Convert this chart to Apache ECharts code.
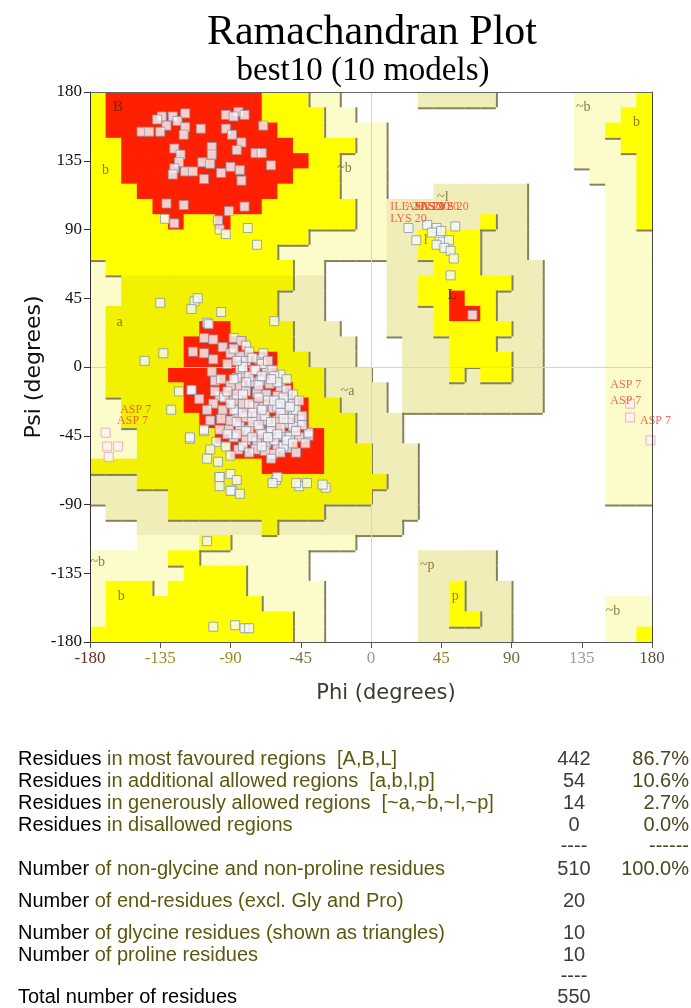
<!DOCTYPE html>
<html><head><meta charset="utf-8">
<script src="https://cdn.jsdelivr.net/npm/echarts@6/dist/echarts.min.js"></script>
<style>html,body{margin:0;padding:0;background:#fff}#c{width:691px;height:1008px}</style>
</head><body><div id="c"></div>
<script>
// ---------------- DATA ----------------
// Region map, 10-degree cells, run-length encoded. Row 0 = psi 170..180, col 0 = phi -180..-170
// R core, Y/y allowed, q/P generously allowed, . disallowed
const regionRows = [
 "Y1R10Y3P2.5q5.5P4Y1","Y1R10Y4P2.14P3Y2","Y1R11Y3P4.12P2Y3","Y2R11Y4P2.12P3Y2",
 "Y2R12Y2P3.12P4Y1","Y2R11Y3P3.13P3Y1","Y3R9Y4P3.3q6.5P2Y1","Y4R7Y6P2q9.5P2Y1",
 "Y5R1Y2R1Y8P2q6Y1q2.5P2Y1","Y14P5q2Y4q3.5P3","Y12P7q2Y4q3.5P3","P1Y12P2.4q3Y3q4.4P3",
 "P2y11q2.4q2Y6q2.4P3","P2y10q3.4q2Y2R1Y2q3.4P3","P1y11q3.4q3Y1R2Y1q3.4P3","P1y6R2y4q3.3q3Y5q2.4P3",
 "P1y5R4y3q4.3q3Y3q3.4P3","P1y5R6y2q3.3q3Y4q2.4P3","P1y4R7y3q3.2q3Y1q1Y2q2.4P3","P1y5R7y2q4.1q9.4P3",
 "P2y4R8y2q3.1q9.4P3","P2y5R7y3q3.13P3","P3y5R7y2q3.13P3","P3y6R6y3q3.12P3",
 "y11R4y3q3.12P3","q3y16q2.12P3","q5y13q3.12P3",".1q4y10q6.15",
 ".3q8y1q8.16",".3P4Y2P8.19","P5Y2P7.7q5.10","P6Y4P4.7q5.10",
 "P1Y3P1Y5P5.6q2Y1q3.9","P1Y10P4.6q2Y1q3.6P3","P1Y12P2.6q2Y2q2.6P3","Y13P2.6q6.6P2Y1"
];
const phiTicks = [-180,-135,-90,-45,0,45,90,135,180];
const psiTicks = [-180,-135,-90,-45,0,45,90,135,180];

// residues [phi, psi]
const betaRegion = [
 [-134,164],[-127,164],[-119,166],[-124,161],[-131,158],[-137,162],[-93,165],[-85,167],[-81,165],[-88,164],
 [-69,158],[-147,154],[-142,154],[-135,154],[-119,157],[-109,156],[-120,152],[-93,156],[-89,152],[-83,147],
 [-86,142],[-74,140],[-70,140],[-64,132],[-126,143],[-122,139],[-123,134],[-126,130],[-119,128],[-114,128],
 [-107,123],[-108,134],[-102,144],[-102,139],[-103,133],[-96,127],[-90,131],[-84,129],[-83,122],[-127,126],
 [-131,107],[-120,106],[-132,97],[-126,94],[-98,96],[-97,90],[-93,87],[-91,102],[-81,105],[-79,91],[-73,80]
];
const bridgeRegion = [
 [-135,42],[-113,43],[-115,38],[-111,45],[-96,36],[-105,29],[-62,30],[-133,9],[-145,4],
 [-123,-16],[-115,-15],[-128,-28],[-116,-47],[-107,-42],[-91,-41],[-53,-45],[-40,-45],
 [-29,-79],[-46,-78],[-61,-74],[-89,-81],[-97,-72],[-105,-114],
 [-101,-170],[-87,-169],[-81,-171],[-78,-171]
];
const alphaRegion = [
 [-104,28],[-107,19],[-101,18],[-114,10],[-107,9],[-101,5],[-102,-3],[-100,-9],[-88,19],[-83,17],
 [-80,14],[-95,13],[-90,9],[-84,7],[-80,4],[-72,5],[-69,9],[-67,-2],[-63,-2],[-58,-5],
 [-75,-2],[-82,-4],[-86,-7],[-76,-10],[-71,-9],[-65,-11],[-58,-13],[-54,-15],[-84,-13],[-80,-16],
 [-73,-17],[-67,-18],[-60,-19],[-54,-22],[-50,-24],[-88,-22],[-82,-24],[-75,-26],[-69,-26],[-63,-27],
 [-56,-28],[-50,-30],[-46,-35],[-86,-30],[-80,-33],[-73,-33],[-67,-35],[-60,-35],[-54,-37],[-50,-39],
 [-84,-39],[-78,-41],[-71,-41],[-65,-43],[-58,-45],[-52,-46],[-40,-43],[-80,-48],[-73,-49],[-67,-50],
 [-60,-52],[-54,-53],[-63,-57],[-97,-19],[-101,-24],[-105,-28],[-110,-21],[-103,-35],[-107,-41],[-97,-41],
 [-99,-49],[-103,-54],[-93,-52],[-116,-46],[-115,-15],[-95,-28],[-90,-35],[-88,-46],[-85,-54],
 [-88,12],[-78,10],[-70,2],[-62,-6],[-56,-20],[-48,-28],[-44,-38],[-52,-34],[-60,-26],[-66,-22],
 [-72,-12],[-78,-6],[-84,-1],[-90,-12],[-94,-20],[-86,-18],[-76,-30],[-70,-44],[-64,-40],[-58,-40],
 [-62,-48],[-56,-52],[-68,-55],[-74,-54],[-80,-42],[-86,-36],[-92,-44],[-96,-34],[-100,-16],[-96,-8],
 [-92,2],[-82,0],[-74,-2],[-66,4],[-60,-10],[-54,-8],[-50,-18],[-46,-46],[-42,-50],[-48,-56],
 [-58,-30],[-68,-32],[-78,-24],[-88,-28],[-82,-52],[-90,-58],[-98,-62],[-105,-60],
 [-97,-72],[-90,-70],[-86,-74],[-97,-78],[-90,-81],[-84,-83],[-60,-72],[-63,-76],[-48,-76],[-41,-76],[-31,-77],
 [-86,4],[-76,6],[-64,-8],[-70,-6],[-80,-10],[-88,-8],[-92,-16],[-82,-18],[-72,-20],[-62,-22],
 [-52,-26],[-58,-24],[-70,-28],[-82,-30],[-90,-24],[-76,-36],[-64,-36],[-56,-34],[-48,-42],[-60,-44],
 [-72,-38],[-86,-44],[-76,-46],[-66,-46],[-54,-48],[-50,-50],[-70,-52],[-78,-56],[-58,-56],[-64,-60],
 [-44,-32],[-46,-22]
];
const leftHandedRegion = [
 [24,91],[29,83],[36,93],[42,91],[54,92],[44,85],[46,82],[50,83],[42,80],[47,78],[51,76],[53,71],[51,60],[65,34],[39,88],[45,89]
];
const flaggedResidues = [[-170,-43],[-169,-52],[-162,-52],[-168,-59],[166,-24],[166,-33],[179,-48]];
// residue labels [text, phi, psi] (label anchor)
const residueLabels = [
 ["ILE 20",12,105],["ASN 20",22,105],["HIS 20",28,105],["ASN 20",31,105],["LYS 20",39,105],["LYS 20",12,97],
 ["ASP 7",-161,-28],["ASP 7",-163,-35],["ASP 7",153,-12],["ASP 7",153,-22],["ASP 7",172,-35]
];
// region labels [text, phi, psi]
const regionLabels = [
 ["B",-162,170],["b",-170,129],["~b",-17,130],["~b",136,170],["b",170,160],["a",-161,29],["~a",-15,-16],
 ["L",52,47],["~l",46,111],["l",35,83],["~b",-175,-128],["b",-160,-150],["~p",36,-130],["p",54,-150],["~b",155,-160]
];
const statLabels = [
 ["Residues"," in most favoured regions  [A,B,L]"],
 ["Residues"," in additional allowed regions  [a,b,l,p]"],
 ["Residues"," in generously allowed regions  [~a,~b,~l,~p]"],
 ["Residues"," in disallowed regions"],
 null,
 ["Number"," of non-glycine and non-proline residues"],
 ["Number"," of end-residues (excl. Gly and Pro)"],
 ["Number"," of glycine residues (shown as triangles)"],
 ["Number"," of proline residues"],
 null,
 ["Total number of residues",""]
];
const statCounts = ["442","54","14","0","----","510","20","10","10","----","550"];
const statPercents = ["86.7%","10.6%","2.7%","0.0%","------","100.0%","","","","",""];

// ---------------- STYLE / LAYOUT ----------------
const codes = "RYyqP.";
const codeColor = ["#fe2000","#ffff00","#f1f100","#f1edb8","#fcfcca","#ffffff"];
const codeRank = [4,3,3,2,2,1];
const statRowY = [759,781,803,825,846,869,901,933,955,976,997];
const xLabelColors = ["#6a2a20","#958f22","#958f22","#7a7640","#9a9a9a","#8a8528","#6a6a40","#9a9a9a","#5a5040"];

function decode(rle){
  const out=[]; const re=/([RYyqP.])(\d+)/g; let m;
  while((m=re.exec(rle))) for(let i=0;i<+m[2];i++) out.push(codes.indexOf(m[1]));
  return out;
}
const grid = regionRows.map(decode);
const cellData=[], edgeData=[];
for(let r=0;r<36;r++) for(let c=0;c<36;c++){
  const k=grid[r][c]; const phi0=-180+10*c, psi0=170-10*r;
  cellData.push([phi0,psi0,k]);
  if(k!==0 && codeRank[k]>=2){
    if(c<35 && codeRank[grid[r][c+1]]<codeRank[k]) edgeData.push([phi0+10,psi0+10,phi0+10,psi0,1]);
    if(r<35 && codeRank[grid[r+1][c]]<codeRank[k]) edgeData.push([phi0,psi0,phi0+10,psi0,0]);
  }
}

const rich={}; xLabelColors.forEach((c,i)=>rich['c'+i]={color:c,fontFamily:'Liberation Serif',fontSize:17});

const graphic=[
 {type:'text',style:{text:'Ramachandran Plot',x:372,y:33,align:'center',verticalAlign:'middle',font:'42px "Liberation Serif"',fill:'#000'}},
 {type:'text',style:{text:'best10 (10 models)',x:363,y:71,align:'center',verticalAlign:'middle',font:'33px "Liberation Serif"',fill:'#000'}},
 {type:'text',style:{text:'Phi (degrees)',x:386,y:694,align:'center',verticalAlign:'middle',font:'21px "DejaVu Sans"',fill:'#3a3a30'}},
 {type:'text',x:34,y:367,rotation:Math.PI/2,style:{text:'Psi (degrees)',x:0,y:0,align:'center',verticalAlign:'middle',font:'22px "DejaVu Sans"',fill:'#111'}}
];
statLabels.forEach((lab,i)=>{
  if(lab) graphic.push({type:'text',style:{text:'{k|'+lab[0]+'}'+(lab[1]?'{o|'+lab[1]+'}':''),x:18,y:statRowY[i],verticalAlign:'middle',
    font:'20px "Liberation Sans"',rich:{k:{fill:'#000',font:'20px "Liberation Sans"'},o:{fill:'#5c5810',font:'20px "Liberation Sans"'}}}});
  graphic.push({type:'text',style:{text:statCounts[i],x:574,y:statRowY[i],align:'center',verticalAlign:'middle',font:'20px "Liberation Sans"',fill:'#3c3c3c'}});
  if(statPercents[i]) graphic.push({type:'text',style:{text:statPercents[i],x:689,y:statRowY[i],align:'right',verticalAlign:'middle',font:'20px "Liberation Sans"',fill:'#4a4620'}});
});

const pointStyle={color:'#f6f7fa',borderColor:'#8a95ab',borderWidth:1};
function pts(data,style,z){return {type:'scatter',data:data,symbol:'rect',symbolSize:9,itemStyle:style,z:z,silent:true,animation:false};}

const option={
  animation:false,
  grid:{left:90,top:92,width:562,height:550},
  xAxis:[{type:'value',min:-180,max:180,interval:45,position:'bottom',z:10,
    axisLine:{show:true,onZero:false,lineStyle:{color:'#555',width:1}},
    axisTick:{show:true,length:6,lineStyle:{color:'#555'}},
    axisLabel:{margin:8,rich:rich,formatter:(v)=>'{c'+phiTicks.indexOf(v)+'|'+v+'}'},
    splitLine:{show:false}},
   {type:'value',min:-180,max:180,position:'top',z:10,axisLine:{show:true,onZero:false,lineStyle:{color:'#666'}},
    axisTick:{show:false},axisLabel:{show:false},splitLine:{show:false}}],
  yAxis:[{type:'value',min:-180,max:180,interval:45,position:'left',z:10,
    axisLine:{show:true,onZero:false,lineStyle:{color:'#333',width:1}},
    axisTick:{show:true,length:6,lineStyle:{color:'#333'}},
    axisLabel:{margin:8,color:'#111',fontFamily:'Liberation Serif',fontSize:17},
    splitLine:{show:false}},
   {type:'value',min:-180,max:180,position:'right',z:10,axisLine:{show:true,onZero:false,lineStyle:{color:'#444'}},
    axisTick:{show:false},axisLabel:{show:false},splitLine:{show:false}}],
  graphic:graphic,
  series:[
   {type:'custom',data:cellData,z:1,silent:true,animation:false,clip:true,
    renderItem:(p,api)=>{const a=api.coord([api.value(0),api.value(1)+10]);const b=api.coord([api.value(0)+10,api.value(1)]);
      return {type:'rect',shape:{x:a[0],y:a[1],width:b[0]-a[0]+0.7,height:b[1]-a[1]+0.7},style:{fill:codeColor[api.value(2)]}};}},
   {type:'custom',data:edgeData,z:2,silent:true,animation:false,clip:true,
    renderItem:(p,api)=>{const a=api.coord([api.value(0),api.value(1)]);const b=api.coord([api.value(2),api.value(3)]);
      const v=api.value(4)===1; const dx=v?1:0, dy=v?0:1;
      return {type:'line',shape:{x1:a[0]+dx,y1:a[1]+dy,x2:b[0]+dx,y2:b[1]+dy},style:{stroke:'#858258',lineWidth:2}};},
    markLine:{silent:true,symbol:['none','none'],label:{show:false},lineStyle:{color:'#d4d4d4',width:1,type:'solid'},
      data:[{xAxis:0},{yAxis:0}],animation:false}},
   pts(betaRegion,pointStyle,5),
   pts(bridgeRegion,pointStyle,5),
   pts(alphaRegion,pointStyle,5),
   pts(leftHandedRegion,pointStyle,5),
   pts(flaggedResidues,{color:'#fff2f5',borderColor:'#e6a0ae',borderWidth:1},5),
   {type:'scatter',data:regionLabels.map(l=>({name:l[0],value:[l[1],l[2]]})),symbolSize:1,itemStyle:{color:'rgba(0,0,0,0)'},z:6,silent:true,
    label:{show:true,position:'inside',formatter:(d)=>d.name,fontFamily:'Liberation Serif',fontSize:14,
      color:'#6a5e24'}},
   {type:'scatter',data:regionLabels.filter(l=>l[0]==='B'||l[0]==='L').map(l=>({name:l[0],value:[l[1],l[2]]})),symbolSize:1,itemStyle:{color:'rgba(0,0,0,0)'},z:7,silent:true,
    label:{show:true,position:'inside',formatter:(d)=>d.name,fontFamily:'Liberation Serif',fontSize:15,color:'#8a1400'}},
   {type:'scatter',data:residueLabels.map(l=>({name:l[0],value:[l[1],l[2]]})),symbolSize:1,itemStyle:{color:'rgba(0,0,0,0)'},z:8,silent:true,clip:false,
    label:{show:true,position:'right',distance:0,formatter:(d)=>d.name,fontFamily:'Liberation Serif',fontSize:12,color:'#e8482c'}}
  ]
};
const chart=echarts.init(document.getElementById('c'),null,{renderer:'canvas'});
chart.setOption(option);
</script></body></html>
